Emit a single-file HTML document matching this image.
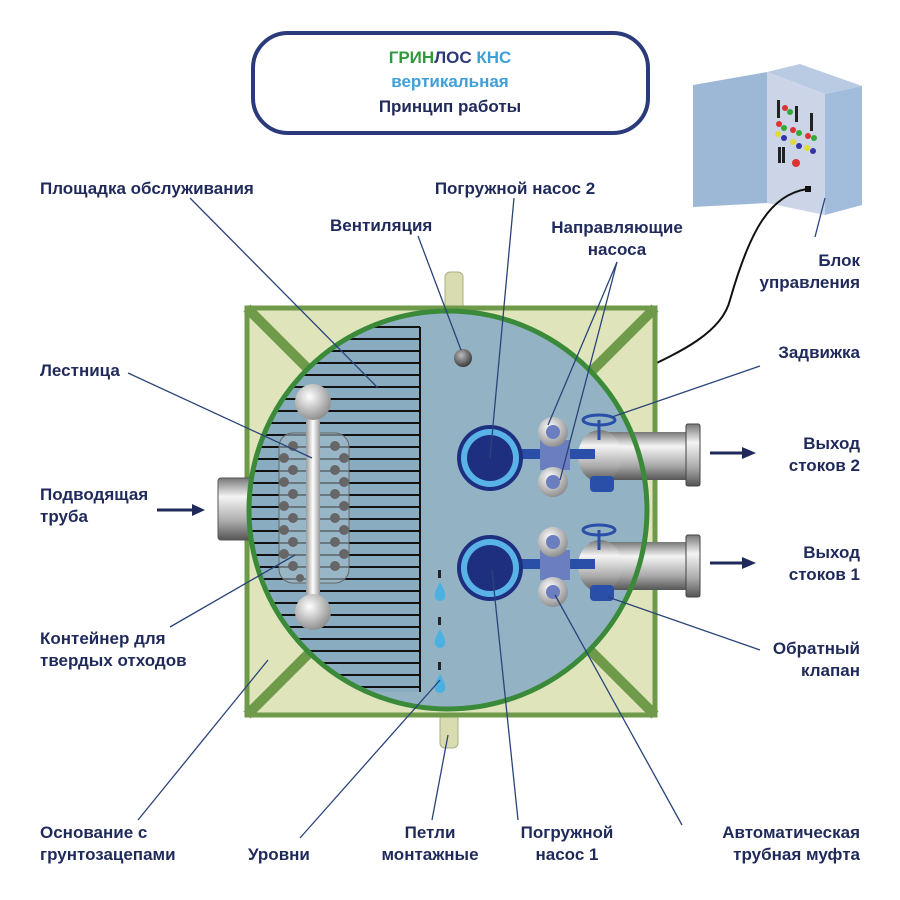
<!DOCTYPE html>
<html><head><meta charset="utf-8"><style>
body{margin:0;background:#fff;}
svg{display:block}
text{font-family:"Liberation Sans",sans-serif;font-weight:bold;fill:#1f2a5a;font-size:17px}
</style></head><body>
<svg width="900" height="900" viewBox="0 0 900 900">
<defs>
<linearGradient id="pipe" x1="0" y1="0" x2="0" y2="1"><stop offset="0" stop-color="#777"/><stop offset="0.3" stop-color="#f4f4f4"/><stop offset="0.7" stop-color="#aaa"/><stop offset="1" stop-color="#555"/></linearGradient>
<linearGradient id="rod" x1="0" y1="0" x2="1" y2="0"><stop offset="0" stop-color="#999"/><stop offset="0.5" stop-color="#fff"/><stop offset="1" stop-color="#999"/></linearGradient>
<radialGradient id="ball" cx="0.4" cy="0.35" r="0.7"><stop offset="0" stop-color="#fff"/><stop offset="1" stop-color="#888"/></radialGradient>
<radialGradient id="vent" cx="0.4" cy="0.35" r="0.7"><stop offset="0" stop-color="#bbb"/><stop offset="1" stop-color="#333"/></radialGradient>
<clipPath id="circ"><circle cx="448" cy="510" r="199"/></clipPath>
</defs>
<!-- title -->
<rect x="253" y="33" width="395" height="100" rx="35" fill="#fff" stroke="#2a3a7a" stroke-width="4"/>
<text x="450" y="63" text-anchor="middle" font-size="19"><tspan fill="#2e9a3c">ГРИН</tspan><tspan fill="#2c3a78">ЛОС </tspan><tspan fill="#3fa0d8">КНС</tspan></text>
<text x="450" y="87" text-anchor="middle" font-size="18" style="fill:#3fa0d8">вертикальная</text>
<text x="450" y="112" text-anchor="middle" font-size="18">Принцип работы</text>
<!-- control box -->
<polygon points="767,72 800,64 862,86 825,94" fill="#b9cbe2"/>
<polygon points="825,94 862,86 862,205 825,215" fill="#a2bcdc"/>
<polygon points="767,72 825,94 825,215 767,203" fill="#cbd5e7"/>
<polygon points="693,85 767,72 767,203 693,207" fill="#9db7d6"/>
<g fill="#222"><rect x="777" y="100" width="3" height="18"/><rect x="795" y="106" width="3" height="16"/><rect x="810" y="113" width="3" height="18"/><rect x="778" y="147" width="3" height="16"/><rect x="782" y="147" width="3" height="16"/></g>
<g><circle cx="785" cy="108" r="3" fill="#d33"/><circle cx="790" cy="112" r="3" fill="#3a3"/><circle cx="779" cy="124" r="3" fill="#d33"/><circle cx="784" cy="128" r="3" fill="#3a3"/><circle cx="793" cy="130" r="3" fill="#d33"/><circle cx="799" cy="133" r="3" fill="#3a3"/><circle cx="808" cy="136" r="3" fill="#d33"/><circle cx="814" cy="138" r="3" fill="#3a3"/><circle cx="778" cy="134" r="3" fill="#dd3"/><circle cx="784" cy="138" r="3" fill="#33a"/><circle cx="793" cy="142" r="3" fill="#dd3"/><circle cx="799" cy="146" r="3" fill="#33a"/><circle cx="807" cy="148" r="3" fill="#dd3"/><circle cx="813" cy="151" r="3" fill="#33a"/><circle cx="796" cy="163" r="4" fill="#d33"/></g>
<rect x="805" y="186" width="6" height="6" fill="#111"/>
<path d="M807,189 C770,195 750,230 730,300 C720,340 660,360 615,383" fill="none" stroke="#111" stroke-width="2"/>
<!-- loops -->
<rect x="445" y="272" width="18" height="40" rx="5" fill="#d8dcb0" stroke="#aab080"/>
<rect x="440" y="708" width="18" height="40" rx="5" fill="#d8dcb0" stroke="#aab080"/>
<!-- base -->
<rect x="247" y="308" width="408" height="407" fill="#dfe4bb" stroke="#6f9a4a" stroke-width="5"/>
<line x1="247" y1="308" x2="655" y2="715" stroke="#6f9a4a" stroke-width="10"/>
<line x1="655" y1="308" x2="247" y2="715" stroke="#6f9a4a" stroke-width="10"/>
<!-- inlet -->
<rect x="218" y="478" width="40" height="62" rx="3" fill="url(#pipe)" stroke="#555"/>
<rect x="255" y="487" width="35" height="44" fill="url(#pipe)"/>
<!-- tank -->
<circle cx="448" cy="510" r="199" fill="#93b3c5"/>
<g clip-path="url(#circ)">
<path d="M420,327 L420,692 L240,692 L240,327 Z" fill="#8aacc0"/>
<g stroke="#111" stroke-width="2">
<line x1="240" y1="327" x2="420" y2="327"/><line x1="240" y1="339" x2="420" y2="339"/><line x1="240" y1="351" x2="420" y2="351"/><line x1="240" y1="363" x2="420" y2="363"/><line x1="240" y1="375" x2="420" y2="375"/><line x1="240" y1="387" x2="420" y2="387"/><line x1="240" y1="399" x2="420" y2="399"/><line x1="240" y1="411" x2="420" y2="411"/><line x1="240" y1="423" x2="420" y2="423"/><line x1="240" y1="435" x2="420" y2="435"/><line x1="240" y1="447" x2="420" y2="447"/><line x1="240" y1="459" x2="420" y2="459"/><line x1="240" y1="471" x2="420" y2="471"/><line x1="240" y1="483" x2="420" y2="483"/><line x1="240" y1="495" x2="420" y2="495"/><line x1="240" y1="507" x2="420" y2="507"/><line x1="240" y1="519" x2="420" y2="519"/><line x1="240" y1="531" x2="420" y2="531"/><line x1="240" y1="543" x2="420" y2="543"/><line x1="240" y1="555" x2="420" y2="555"/><line x1="240" y1="567" x2="420" y2="567"/><line x1="240" y1="579" x2="420" y2="579"/><line x1="240" y1="591" x2="420" y2="591"/><line x1="240" y1="603" x2="420" y2="603"/><line x1="240" y1="615" x2="420" y2="615"/><line x1="240" y1="627" x2="420" y2="627"/><line x1="240" y1="639" x2="420" y2="639"/><line x1="240" y1="651" x2="420" y2="651"/><line x1="240" y1="663" x2="420" y2="663"/><line x1="240" y1="675" x2="420" y2="675"/><line x1="240" y1="687" x2="420" y2="687"/>
<line x1="420" y1="327" x2="420" y2="692"/></g>
</g>
<!-- container -->
<rect x="279" y="433" width="70" height="150" rx="14" fill="#a4bccb" fill-opacity="0.6" stroke="#666"/>
<g fill="#666"><circle cx="293" cy="446" r="5"/><circle cx="335" cy="446" r="5"/><circle cx="284" cy="458" r="5"/><circle cx="344" cy="458" r="5"/><circle cx="293" cy="470" r="5"/><circle cx="335" cy="470" r="5"/><circle cx="284" cy="482" r="5"/><circle cx="344" cy="482" r="5"/><circle cx="293" cy="494" r="5"/><circle cx="335" cy="494" r="5"/><circle cx="284" cy="506" r="5"/><circle cx="344" cy="506" r="5"/><circle cx="293" cy="518" r="5"/><circle cx="335" cy="518" r="5"/><circle cx="284" cy="530" r="5"/><circle cx="344" cy="530" r="5"/><circle cx="293" cy="542" r="5"/><circle cx="335" cy="542" r="5"/><circle cx="284" cy="554" r="5"/><circle cx="344" cy="554" r="5"/><circle cx="293" cy="566" r="5"/><circle cx="335" cy="566" r="5"/><circle cx="300" cy="578" r="4"/></g>
<rect x="306" y="410" width="14" height="200" fill="url(#rod)"/>
<circle cx="313" cy="402" r="18" fill="url(#ball)"/>
<circle cx="313" cy="612" r="18" fill="url(#ball)"/>
<circle cx="463" cy="358" r="9" fill="url(#vent)"/>
<!-- drops -->
<g fill="#4cb1e0"><rect x="438" y="570" width="3" height="8" fill="#222"/><path d="M440,582 C434,592 432,600 440,601 C448,600 446,592 440,582Z"/><rect x="438" y="617" width="3" height="8" fill="#222"/><path d="M440,629 C434,639 432,647 440,648 C448,647 446,639 440,629Z"/><rect x="438" y="662" width="3" height="8" fill="#222"/><path d="M440,674 C434,684 432,692 440,693 C448,692 446,684 440,674Z"/></g>
<!-- outlets -->
<g>
<rect x="590" y="432" width="100" height="48" fill="url(#pipe)"/>
<rect x="686" y="424" width="14" height="62" rx="2" fill="url(#pipe)" stroke="#444"/>
<ellipse cx="600" cy="456" rx="22" ry="26" fill="url(#pipe)"/>
<rect x="590" y="476" width="24" height="16" rx="4" fill="#2a4fa8"/>
<line x1="599" y1="420" x2="599" y2="440" stroke="#2a4fa8" stroke-width="3"/><ellipse cx="599" cy="420" rx="16" ry="5" fill="none" stroke="#2a4fa8" stroke-width="3"/>
<rect x="590" y="542" width="100" height="48" fill="url(#pipe)"/>
<rect x="686" y="535" width="14" height="62" rx="2" fill="url(#pipe)" stroke="#444"/>
<ellipse cx="600" cy="566" rx="22" ry="26" fill="url(#pipe)"/>
<rect x="590" y="585" width="24" height="16" rx="4" fill="#2a4fa8"/>
<line x1="599" y1="530" x2="599" y2="550" stroke="#2a4fa8" stroke-width="3"/><ellipse cx="599" cy="530" rx="16" ry="5" fill="none" stroke="#2a4fa8" stroke-width="3"/>
</g>
<!-- pumps -->
<g>
<rect x="520" y="449" width="75" height="10" fill="#2a4fa8"/><rect x="540" y="440" width="30" height="30" fill="#6b7ec0"/>
<circle cx="490" cy="458" r="33" fill="#1f2f80"/><circle cx="490" cy="458" r="29" fill="#5ab3e6"/><circle cx="490" cy="458" r="23" fill="#1f2f80"/>
<rect x="520" y="559" width="75" height="10" fill="#2a4fa8"/><rect x="540" y="550" width="30" height="30" fill="#6b7ec0"/>
<circle cx="490" cy="568" r="33" fill="#1f2f80"/><circle cx="490" cy="568" r="29" fill="#5ab3e6"/><circle cx="490" cy="568" r="23" fill="#1f2f80"/>
<circle cx="553" cy="432" r="15" fill="url(#ball)"/><circle cx="553" cy="432" r="7" fill="#6b7ec0"/>
<circle cx="553" cy="482" r="15" fill="url(#ball)"/><circle cx="553" cy="482" r="7" fill="#6b7ec0"/>
<circle cx="553" cy="542" r="15" fill="url(#ball)"/><circle cx="553" cy="542" r="7" fill="#6b7ec0"/>
<circle cx="553" cy="592" r="15" fill="url(#ball)"/><circle cx="553" cy="592" r="7" fill="#6b7ec0"/>
</g>
<circle cx="448" cy="510" r="199" fill="none" stroke="#3a8a3a" stroke-width="5"/>
<!-- arrows -->
<g fill="#1f2a5a" stroke="#1f2a5a" stroke-width="3">
<line x1="157" y1="510" x2="195" y2="510"/><polygon points="192,504 205,510 192,516" stroke="none"/>
<line x1="710" y1="453" x2="745" y2="453"/><polygon points="742,447 756,453 742,459" stroke="none"/>
<line x1="710" y1="563" x2="745" y2="563"/><polygon points="742,557 756,563 742,569" stroke="none"/>
</g>
<!-- leader lines -->
<g stroke="#2a4478" stroke-width="1.3" fill="none">
<line x1="190" y1="198" x2="378" y2="388"/>
<line x1="418" y1="236" x2="461" y2="350"/>
<line x1="514" y1="198" x2="490" y2="458"/>
<line x1="617" y1="262" x2="548" y2="425"/><line x1="617" y1="262" x2="560" y2="480"/>
<line x1="825" y1="198" x2="815" y2="237"/>
<line x1="760" y1="366" x2="612" y2="417"/>
<line x1="128" y1="373" x2="312" y2="458"/>
<line x1="170" y1="627" x2="295" y2="555"/>
<line x1="138" y1="820" x2="268" y2="660"/>
<line x1="300" y1="838" x2="440" y2="680"/>
<line x1="432" y1="820" x2="448" y2="735"/>
<line x1="518" y1="820" x2="492" y2="570"/>
<line x1="682" y1="825" x2="555" y2="595"/>
<line x1="760" y1="650" x2="608" y2="597"/>
</g>
<!-- labels -->
<text x="40" y="194">Площадка обслуживания</text>
<text x="330" y="231">Вентиляция</text>
<text x="515" y="194" text-anchor="middle">Погружной насос 2</text>
<text x="617" y="233" text-anchor="middle">Направляющие</text>
<text x="617" y="255" text-anchor="middle">насоса</text>
<text x="860" y="266" text-anchor="end">Блок</text>
<text x="860" y="288" text-anchor="end">управления</text>
<text x="860" y="358" text-anchor="end">Задвижка</text>
<text x="860" y="449" text-anchor="end">Выход</text>
<text x="860" y="471" text-anchor="end">стоков 2</text>
<text x="860" y="558" text-anchor="end">Выход</text>
<text x="860" y="580" text-anchor="end">стоков 1</text>
<text x="860" y="654" text-anchor="end">Обратный</text>
<text x="860" y="676" text-anchor="end">клапан</text>
<text x="40" y="376">Лестница</text>
<text x="40" y="500">Подводящая</text>
<text x="40" y="522">труба</text>
<text x="40" y="644">Контейнер для</text>
<text x="40" y="666">твердых отходов</text>
<text x="40" y="838">Основание с</text>
<text x="40" y="860">грунтозацепами</text>
<text x="248" y="860">Уровни</text>
<text x="430" y="838" text-anchor="middle">Петли</text>
<text x="430" y="860" text-anchor="middle">монтажные</text>
<text x="567" y="838" text-anchor="middle">Погружной</text>
<text x="567" y="860" text-anchor="middle">насос 1</text>
<text x="860" y="838" text-anchor="end">Автоматическая</text>
<text x="860" y="860" text-anchor="end">трубная муфта</text>
</svg>
</body></html>
